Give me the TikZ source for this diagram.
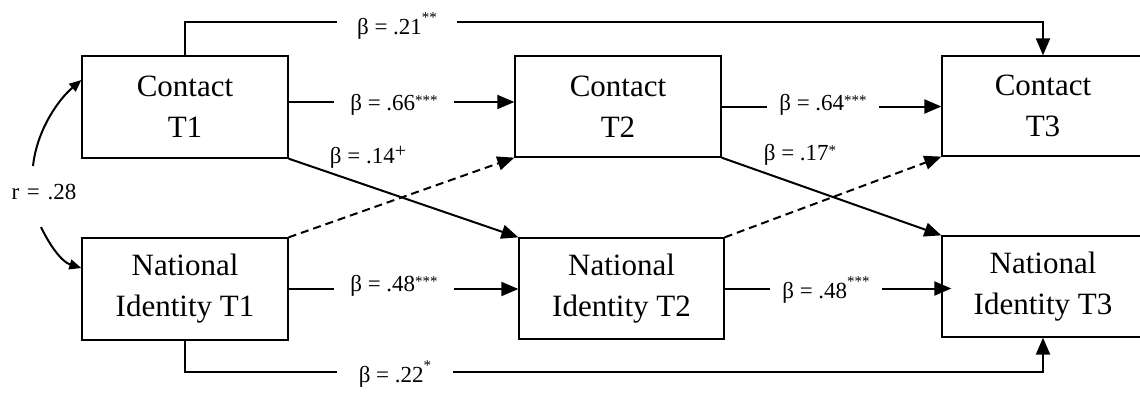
\documentclass[tikz,border=0pt]{standalone}
\usepackage{fontspec}
\setmainfont{Liberation Serif}
\usetikzlibrary{arrows.meta,calc}
\newcommand\sigmark[2][5pt]{\raisebox{#1}{\fontsize{15}{15}\selectfont #2}}
\begin{document}
\begin{tikzpicture}[x=1pt,y=-1pt,
  box/.style={draw,line width=1.3pt,inner sep=0pt,align=center,
    font=\fontsize{31}{41}\selectfont},
  lbl/.style={inner sep=0pt,font=\fontsize{23}{27}\selectfont},
  gaplbl/.style={lbl,fill=white,inner ysep=3pt},
  conn/.style={line width=2pt,-{Triangle[length=17pt,width=14pt]}},
  dsh/.style={conn,dash pattern=on 8pt off 5pt},
  curv/.style={line width=2pt,-{Triangle[length=12pt,width=10pt]}}
]
\useasboundingbox (0,0) rectangle (1140,396);

% boxes
\node[box,minimum width=206pt,minimum height=102pt] (c1) at (185,107) {Contact\\T1};
\node[box,minimum width=206pt,minimum height=101pt] (c2) at (618,106.5) {Contact\\T2};
\node[box,minimum width=202pt,minimum height=100pt] (c3) at (1043,106) {Contact\\T3};
\node[box,minimum width=206pt,minimum height=102pt] (n1) at (185,289) {National\\Identity T1};
\node[box,minimum width=205pt,minimum height=101pt] (n2) at (621.5,288.5) {National\\Identity T2};
\node[box,minimum width=202pt,minimum height=101pt] (n3) at (1043,286.5) {National\\Identity T3};

% long paths
\draw[conn] (c1.north) -- ++(0,-33) -| (c3.north);
\draw[conn] (n1.south) -- ++(0,31) -| (n3.south);

% horizontal arrows
\draw[conn] ([yshift=5pt]c1.east) -- ([yshift=5pt]c1.east -| c2.west);
\draw[conn] (c2.east) -- (c2.east -| c3.west);
\draw[conn] (n1.east) -- (n1.east -| n2.west);
\draw[conn,shorten >=-10pt] (n2.east) -- (n2.east -| n3.west);

% cross-lagged
\draw[conn] (c1.south east) -- (n2.north west);
\draw[dsh] (n1.north east) -- (c2.south west);
\draw[conn] (c2.south east) -- (n3.north west);
\draw[dsh] (n2.north east) -- (c3.south west);

% correlation
\node[lbl] (r) at (44,192) {r\hspace{0.33em}=\hspace{0.33em}.28};
\coordinate (ra) at (33,166);
\coordinate (rb) at (41,227);
\draw[curv] (ra) .. controls (37,130) and (58,100) .. ([yshift=27pt]c1.west);
\draw[curv] (rb) .. controls (50,246) and (62,262) .. ([yshift=21pt]n1.west);

% labels
\node[gaplbl,inner xsep=20pt] (l21) at (397,26) {β = .21\sigmark[12pt]{**}};
\node[gaplbl,inner xsep=16pt] (l66) at (394,105) {β = .66\sigmark{***}};
\node[gaplbl,inner xsep=12pt] (l64) at (823,105) {β = .64\sigmark{***}};
\node[gaplbl,inner xsep=16pt] (l48a) at (394,286) {β = .48\sigmark{***}};
\node[gaplbl,inner xsep=12pt] (l48b) at (826,290) {β = .48\sigmark[12pt]{***}};
\node[gaplbl,inner xsep=22pt] (l22) at (395,374) {β = .22\sigmark[12pt]{*}};
\node[lbl] (l14) at (368,157) {β = .14\sigmark[6pt]{\fontsize{20}{20}\selectfont +}};
\node[lbl] (l17) at (800,155) {β = .17\sigmark{*}};
\end{tikzpicture}
\end{document}
